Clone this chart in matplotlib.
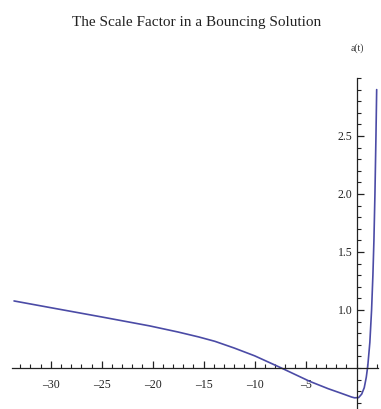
#!/usr/bin/env python3
"""
Plot the scale factor a(t) of a bouncing cosmological solution.
"""

import matplotlib

matplotlib.use("Agg")
import matplotlib.pyplot as plt
from matplotlib.ticker import MultipleLocator, FixedLocator

# Sampled a(t) along the solution
t_vals = [-33.6, -30, -25, -20.3, -17.5, -15.5, -13.9, -12, -10, -7.5, -4.6,
          -2.8, -1.7, -1.0, -0.5, -0.2, 0.2, 0.5, 0.75, 0.95, 1.1, 1.3, 1.47,
          1.6, 1.7, 1.8, 1.9, 1.97]
a_vals = [1.078, 1.02, 0.94, 0.863, 0.81, 0.768, 0.73, 0.672, 0.605, 0.505,
          0.385, 0.322, 0.288, 0.266, 0.25, 0.243, 0.245, 0.275, 0.33, 0.42,
          0.52, 0.72, 1.0, 1.3, 1.6, 2.0, 2.5, 2.9]

x_tick_labels = [-30, -25, -20, -15, -10, -5]
y_tick_labels = [1.0, 1.5, 2.0, 2.5]

SERIF = "Liberation Serif"
LINE_COLOR = "#4b4ba6"

fig = plt.figure(figsize=(3.81, 4.09), dpi=100)
ax = fig.add_axes([12 / 381, 0.4 / 409, 366 / 381, 330.6 / 409])

ax.plot(t_vals, a_vals, color=LINE_COLOR, linewidth=1.2, solid_capstyle="round",
        solid_joinstyle="round")

ax.set_xlim(-33.8, 2.1)
ax.set_ylim(0.15, 3.0)

# Axes crossing at (0, 0.5)
ax.spines["left"].set_position(("data", 0))
ax.spines["bottom"].set_position(("data", 0.5))
ax.spines["right"].set_visible(False)
ax.spines["top"].set_visible(False)
for sp in ("left", "bottom"):
    ax.spines[sp].set_linewidth(0.9)
    ax.spines[sp].set_color("#222222")

ax.xaxis.set_major_locator(FixedLocator(x_tick_labels))
ax.xaxis.set_minor_locator(MultipleLocator(1))
ax.yaxis.set_major_locator(FixedLocator(y_tick_labels))
ax.yaxis.set_minor_locator(MultipleLocator(0.1))

ax.set_xticklabels([f"\u2013{abs(v)}" for v in x_tick_labels], fontfamily=SERIF,
                   fontsize=8.5)
ax.set_yticklabels([f"{v:.1f}" for v in y_tick_labels], fontfamily=SERIF,
                   fontsize=8.5)

ax.tick_params(axis="x", which="major", direction="in", length=5, width=0.9,
               pad=8, colors="#222222")
ax.tick_params(axis="x", which="minor", direction="in", length=3, width=0.8,
               colors="#222222")
ax.tick_params(axis="y", which="major", direction="in", length=5, width=0.9,
               pad=3, colors="#222222")
ax.tick_params(axis="y", which="minor", direction="in", length=3, width=0.8,
               colors="#222222")

ax.patch.set_visible(False)

fig.text(0.517, 0.946, "The Scale Factor in a Bouncing Solution", ha="center",
         va="center", fontfamily=SERIF, fontsize=11, color="#222222")
fig.text(357 / 381, 1 - 48 / 409, "a(t)", ha="center", va="center",
         fontfamily=SERIF, fontsize=7, color="#333333")

fig.savefig("out.png", dpi=100)
